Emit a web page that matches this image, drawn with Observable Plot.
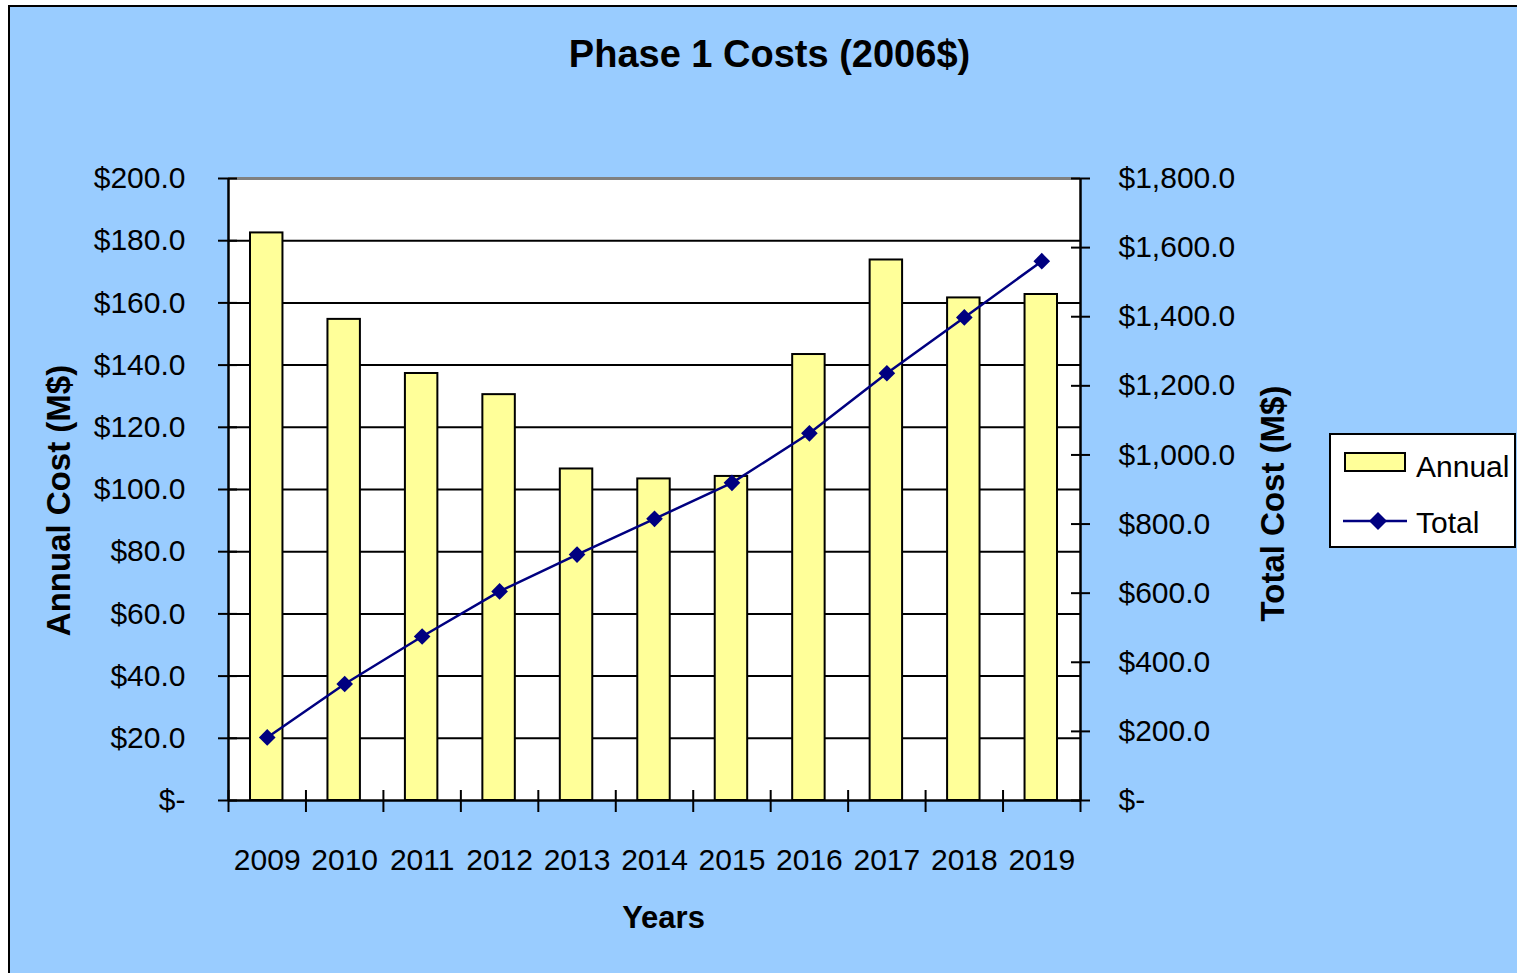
<!DOCTYPE html>
<html>
<head>
<meta charset="utf-8">
<script src="https://cdn.jsdelivr.net/npm/d3@7"></script>
<script src="https://cdn.jsdelivr.net/npm/@observablehq/plot@0.6"></script>
<style>
  html, body { margin: 0; padding: 0; background: #fff; width: 1517px; height: 973px; overflow: hidden;
    font-family: "Liberation Sans", Arial, sans-serif; }
  #bg { position: absolute; left: 8px; top: 5px; width: 1530px; height: 990px; background: #99CCFF;
    border-left: 2px solid #000; border-top: 2px solid #000; }
  #chart { position: absolute; left: 0; top: 0; }
  #legend { position: absolute; left: 1329px; top: 433px; width: 187px; height: 115px; box-sizing: border-box;
    background: #fff; border: 2px solid #000; }
  #legend .sw { position: absolute; left: 13px; top: 17px; width: 62px; height: 20px; box-sizing: border-box;
    background: #FFFF99; border: 2px solid #000; }
  #legend .lab { position: absolute; left: 85px; font-size: 30px; line-height: 30px; color: #000; white-space: nowrap; }
  #legend svg { position: absolute; left: 12px; top: 74px; }
</style>
</head>
<body>
<div id="bg"></div>
<div id="chart"></div>
<div id="legend">
  <div class="sw"></div>
  <div class="lab" style="top:17px">Annual</div>
  <svg width="66" height="24" viewBox="0 0 66 24">
    <line x1="0" y1="12" x2="64" y2="12" stroke="#000080" stroke-width="2.5"/>
    <path d="M35 3 L44 12 L35 21 L26 12 Z" fill="#000080"/>
  </svg>
  <div class="lab" style="top:73px">Total</div>
</div>
<script>
const years = ["2009","2010","2011","2012","2013","2014","2015","2016","2017","2018","2019"];
const annual = [182.5, 154.7, 137.3, 130.5, 106.6, 103.4, 104.2, 143.4, 173.8, 161.6, 162.7];
const total = [182.5, 337.2, 474.5, 605.0, 711.6, 815.0, 919.2, 1062.6, 1236.4, 1398.0, 1560.7];
const annualTicks = [0, 20, 40, 60, 80, 100, 120, 140, 160, 180, 200];
const totalTicks = [0, 200, 400, 600, 800, 1000, 1200, 1400, 1600, 1800];
const title = "Phase 1 Costs (2006$)";
const xTitle = "Years";
const yLeftTitle = "Annual Cost (M$)";
const yRightTitle = "Total Cost (M$)";

const rows = years.map((y, i) => ({year: y, annual: annual[i], total: total[i]}));
const ratio = annualTicks[annualTicks.length - 1] / totalTicks[totalTicks.length - 1];
const money = d3.format(",.1f");
const fmt = v => v === 0 ? "$-" : "$" + money(v);

const W = 1517, H = 973;
const mL = 228, mR = W - 1080, mT = 178, mB = H - 800;
const plotW = W - mL - mR;
const bw = plotW / years.length;

const chart = Plot.plot({
  width: W, height: H,
  marginLeft: mL, marginRight: mR, marginTop: mT, marginBottom: mB,
  style: {background: "transparent", fontFamily: "'Liberation Sans', Arial, sans-serif", fontSize: "30px", color: "#000", overflow: "visible"},
  x: {type: "band", domain: years, padding: 0, round: false, label: null},
  y: {domain: [0, 200], label: null},
  marks: [
    Plot.frame({fill: "white", stroke: "none"}),
    // horizontal gridlines
    Plot.ruleY(annualTicks.filter(t => t > 0 && t < 200), {stroke: "#000", strokeWidth: 2}),
    Plot.ruleY([200], {stroke: "#808080", strokeWidth: 3}),
    // bars
    Plot.barY(rows, {x: "year", y: "annual", fill: "#FFFF99", stroke: "#000", strokeWidth: 2, insetLeft: 22, insetRight: 23}),
    // axis lines
    Plot.ruleY([0], {stroke: "#000", strokeWidth: 2.5}),
    Plot.ruleX([years[0]], {dx: -bw / 2, stroke: "#000", strokeWidth: 2.5}),
    Plot.ruleX([years[years.length - 1]], {dx: bw / 2, stroke: "#000", strokeWidth: 2.5}),
    // left axis crossing ticks
    Plot.ruleY(annualTicks, {stroke: "#000", strokeWidth: 2, insetLeft: -10, insetRight: plotW - 9}),
    // right axis crossing ticks
    Plot.ruleY(totalTicks, {y: d => d * ratio, stroke: "#000", strokeWidth: 2, insetLeft: plotW - 9, insetRight: -10}),
    // x boundary ticks
    Plot.ruleX(years, {x: d => d, y1: 0, y2: 0, dx: -bw / 2, insetTop: -10, insetBottom: -12, stroke: "#000", strokeWidth: 2}),
    Plot.ruleX([years[years.length - 1]], {x: d => d, y1: 0, y2: 0, dx: bw / 2, insetTop: -10, insetBottom: -12, stroke: "#000", strokeWidth: 2}),
    // total line
    Plot.line(rows, {x: "year", y: d => d.total * ratio, stroke: "#000080", strokeWidth: 2.5}),
    Plot.dot(rows, {x: "year", y: d => d.total * ratio, symbol: "diamond2", r: 7.5, fill: "#000080", stroke: "none"}),
    // axes
    Plot.axisY({anchor: "left", ticks: annualTicks, tickFormat: fmt, tickSize: 0, tickPadding: 43, label: null, fontSize: 30}),
    Plot.axisY(totalTicks, {anchor: "right", y: d => d * ratio, text: d => fmt(d), tickSize: 0, tickPadding: 38, label: null, fontSize: 30}),
    Plot.axisX({tickSize: 0, tickPadding: 48, label: null, fontSize: 30}),
    // titles
    Plot.text([title], {text: d => d, frameAnchor: "top", dx: 115, dy: -124, fontSize: 38, fontWeight: "bold", lineAnchor: "middle"}),
    Plot.text([xTitle], {text: d => d, frameAnchor: "bottom", dx: 9, dy: 118, fontSize: 31, fontWeight: "bold", lineAnchor: "middle"}),
    Plot.text([yLeftTitle], {text: d => d, frameAnchor: "left", textAnchor: "middle", dx: -169, dy: 11, rotate: -90, fontSize: 33, fontWeight: "bold", lineAnchor: "middle"}),
    Plot.text([yRightTitle], {text: d => d, frameAnchor: "right", textAnchor: "middle", dx: 193, dy: 14, rotate: -90, fontSize: 33, fontWeight: "bold", lineAnchor: "middle"})
  ]
});
document.getElementById("chart").appendChild(chart);
</script>
</body>
</html>
